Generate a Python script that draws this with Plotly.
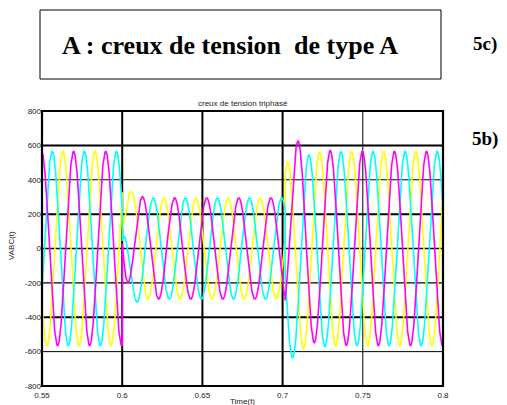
import numpy as np
import plotly.graph_objects as go

# ---------------- data ----------------
x_tick_vals = [0.55, 0.6, 0.65, 0.7, 0.75, 0.8]
x_tick_text = ["0.55", "0.6", "0.65", "0.7", "0.75", "0.8"]
y_tick_vals = [800, 600, 400, 200, 0, -200, -400, -600, -800]
y_tick_text = ["800", "600", "400", "200", "0", "-200", "-400", "-600", "-800"]

phase_names = ["Vc", "Vb", "Va"]                 # drawing order: yellow, cyan, magenta
phase_colors = ["#FFFF00", "#00FFFF", "#FF00FF"]
phase_shift_deg = [-240, -120, 0]                # three-phase system
time_window = [0.55, 0.8]                        # s
sag_window = [0.6, 0.7015]                       # s, start / end of the voltage dip
frequency_hz = 50
amplitude_nominal = 565                          # V peak before / after the dip
amplitude_sag = 295                              # V peak during the dip
sag_phase_lag_s = 0.003                          # phase jump during the dip
ref_peak_time = 0.5497                           # magenta peak time
onset_offset = [200, -250, 238]                  # transient offsets at dip start (V)
recovery_offset = [-76, -128, 167]               # transient offsets at recovery (V)
onset_tau = 0.0035
recovery_tau = 0.008
sample_step = 0.0001

# ---------------- build waveforms ----------------
t = np.arange(time_window[0], time_window[1] + sample_step / 2, sample_step)
w = 2 * np.pi * frequency_hz
series = []
for k in range(3):
    ph = np.deg2rad(phase_shift_deg[k])
    full = amplitude_nominal * np.cos(w * (t - ref_peak_time) + ph)
    sag = amplitude_sag * np.cos(w * (t - ref_peak_time - sag_phase_lag_s) + ph)
    v = full.copy()
    m_sag = (t >= sag_window[0]) & (t < sag_window[1])
    v[m_sag] = sag[m_sag] + onset_offset[k] * np.exp(-(t[m_sag] - sag_window[0]) / onset_tau)
    m_rec = t >= sag_window[1]
    v[m_rec] = full[m_rec] + recovery_offset[k] * np.exp(-(t[m_rec] - sag_window[1]) / recovery_tau)
    series.append(v)

# ---------------- figure ----------------
W, H = 507, 405
L, R, T, B = 42, 443, 111, 386
SERIF = "Liberation Serif, Times New Roman, Times, serif"
SANS = "Liberation Sans, Arial, Helvetica, sans-serif"


def px(x):
    return (x - L) / (R - L)


def py(y):
    return (B - y) / (B - T)


fig = go.Figure()
for k in range(3):
    fig.add_trace(go.Scatter(x=t, y=series[k], mode="lines", name=phase_names[k],
                             line=dict(color=phase_colors[k], width=1.6),
                             showlegend=False, hoverinfo="skip"))

shapes = []
# grid lines (varying thickness as in the reference)
h_grid = [(600, 2), (400, 1), (200, 2), (0, 1.4), (-200, 1.4), (-400, 2), (-600, 1)]
v_grid = [(0.6, 2), (0.65, 2), (0.7, 2), (0.75, 1)]
for val, lw in h_grid:
    shapes.append(dict(type="line", xref="paper", yref="y", x0=0, x1=1, y0=val, y1=val,
                       line=dict(color="black", width=lw), layer="below"))
for val, lw in v_grid:
    shapes.append(dict(type="line", xref="x", yref="paper", x0=val, x1=val, y0=0, y1=1,
                       line=dict(color="black", width=lw), layer="below"))
# plot frame
shapes.append(dict(type="rect", xref="paper", yref="paper", x0=0, x1=1, y0=0, y1=1,
                   line=dict(color="black", width=2.2), layer="above"))
# title box at top of page
shapes.append(dict(type="rect", xref="paper", yref="paper", x0=px(40), x1=px(441),
                   y0=py(79), y1=py(10), line=dict(color="black", width=1)))

annotations = [
    dict(text="<b>A : creux de tension \u00a0de type A</b>", x=px(230), y=py(45),
         xref="paper", yref="paper", showarrow=False, xanchor="center", yanchor="middle",
         font=dict(family=SERIF, size=26, color="black")),
    dict(text="<b>5c)</b>", x=px(471), y=py(44), xref="paper", yref="paper",
         showarrow=False, xanchor="left", yanchor="middle",
         font=dict(family=SERIF, size=19, color="black")),
    dict(text="<b>5b)</b>", x=px(470), y=py(139), xref="paper", yref="paper",
         showarrow=False, xanchor="left", yanchor="middle",
         font=dict(family=SERIF, size=19, color="black")),
    dict(text="creux de tension triphasé", x=0.5, y=py(103), xref="paper", yref="paper",
         showarrow=False, xanchor="center", yanchor="middle",
         font=dict(family=SANS, size=8, color="#222")),
    dict(text="Time(t)", x=0.5, y=py(401), xref="paper", yref="paper",
         showarrow=False, xanchor="center", yanchor="middle",
         font=dict(family=SANS, size=8, color="#222")),
    dict(text="VABC(t)", x=px(11), y=py(246), xref="paper", yref="paper",
         showarrow=False, xanchor="center", yanchor="middle", textangle=-90,
         font=dict(family=SANS, size=8, color="#222")),
]

fig.update_layout(
    width=W, height=H,
    margin=dict(l=L, r=W - R, t=T, b=H - B, pad=0, autoexpand=False),
    paper_bgcolor="white", plot_bgcolor="white",
    shapes=shapes, annotations=annotations,
    xaxis=dict(range=time_window, tickvals=x_tick_vals, ticktext=x_tick_text,
               showgrid=False, zeroline=False, showline=False, ticks="",
               ticklabelstandoff=3, automargin=False,
               tickfont=dict(family=SANS, size=8, color="#222")),
    yaxis=dict(range=[-800, 800], tickvals=y_tick_vals, ticktext=y_tick_text,
               showgrid=False, zeroline=False, showline=False, ticks="",
               automargin=False,
               tickfont=dict(family=SANS, size=8, color="#222")),
)

fig.write_html("out.html", config={"displayModeBar": False})
